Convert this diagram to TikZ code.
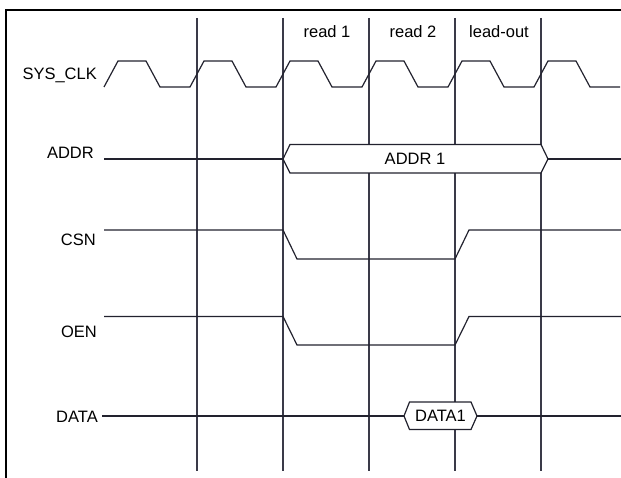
\documentclass[tikz,border=0pt]{standalone}
\usepackage{fontspec}
\setmainfont{Liberation Sans}
\definecolor{wave}{HTML}{22222E}
\definecolor{gridc}{HTML}{3A3A48}
\tikzset{
  frameline/.style={line width=2.2pt, black},
  gridline/.style={line width=1.4pt, gridc},
  sig/.style={line width=1.2pt, wave, line join=miter},
  lbl/.style={font=\fontsize{16.5}{19}\selectfont, text=black, inner sep=0pt},
}
\begin{document}
\begin{tikzpicture}[x=1pt,y=-1pt]
\useasboundingbox (0,0) rectangle (621,478);
% frame
\draw[frameline] (6,478) -- (6,10) -- (621,10);
% grid
\foreach \gx in {197,283,369,455,541} {
  \draw[gridline] (\gx,18) -- (\gx,471);
}
% phase labels
\node[lbl] (r1) at (327,32) {read 1};
\node[lbl] (r2) at (413,32) {read 2};
\node[lbl] (lo) at (499,32) {lead-out};
% signal labels
\node[lbl, anchor=east] (clk) at (97,75) {SYS\_CLK};
\node[lbl, anchor=east] (addr) at (94,153) {ADDR};
\node[lbl, anchor=east] (csn) at (96,240) {CSN};
\node[lbl, anchor=east] (oen) at (97,332) {OEN};
\node[lbl, anchor=east] (data) at (98,417) {DATA};
% clock
\draw[sig] (104,87)
  \foreach \k in {0,...,5} {
    -- ({104+86*\k+14},61) -- ({104+86*\k+42},61) -- ({104+86*\k+56},87) -- ({104+86*\k+86},87)
  };
% ADDR
\draw[sig] (104,159) -- (283,159);
\draw[sig,fill=white] (283,159) -- (290,144.5) -- (541,144.5) -- (548,159) -- (541,173) -- (290,173) -- cycle;
\node[lbl] (a1) at (415,159) {ADDR 1};
\draw[sig] (548,159) -- (621,159);
% CSN
\draw[sig] (104,230) -- (283,230) -- (297,259) -- (455,259) -- (469,230) -- (621,230);
% OEN
\draw[sig] (104,316.5) -- (283,316.5) -- (297,345) -- (455,345) -- (469,316.5) -- (621,316.5);
% DATA
\draw[sig] (102,416) -- (404,416);
\draw[sig,fill=white] (404,416) -- (409.5,402) -- (471,402) -- (477,416) -- (471,429.5) -- (409.5,429.5) -- cycle;
\node[lbl] (d1) at (440.5,416) {DATA1};
\draw[sig] (477,416) -- (621,416);
\end{tikzpicture}
\end{document}
